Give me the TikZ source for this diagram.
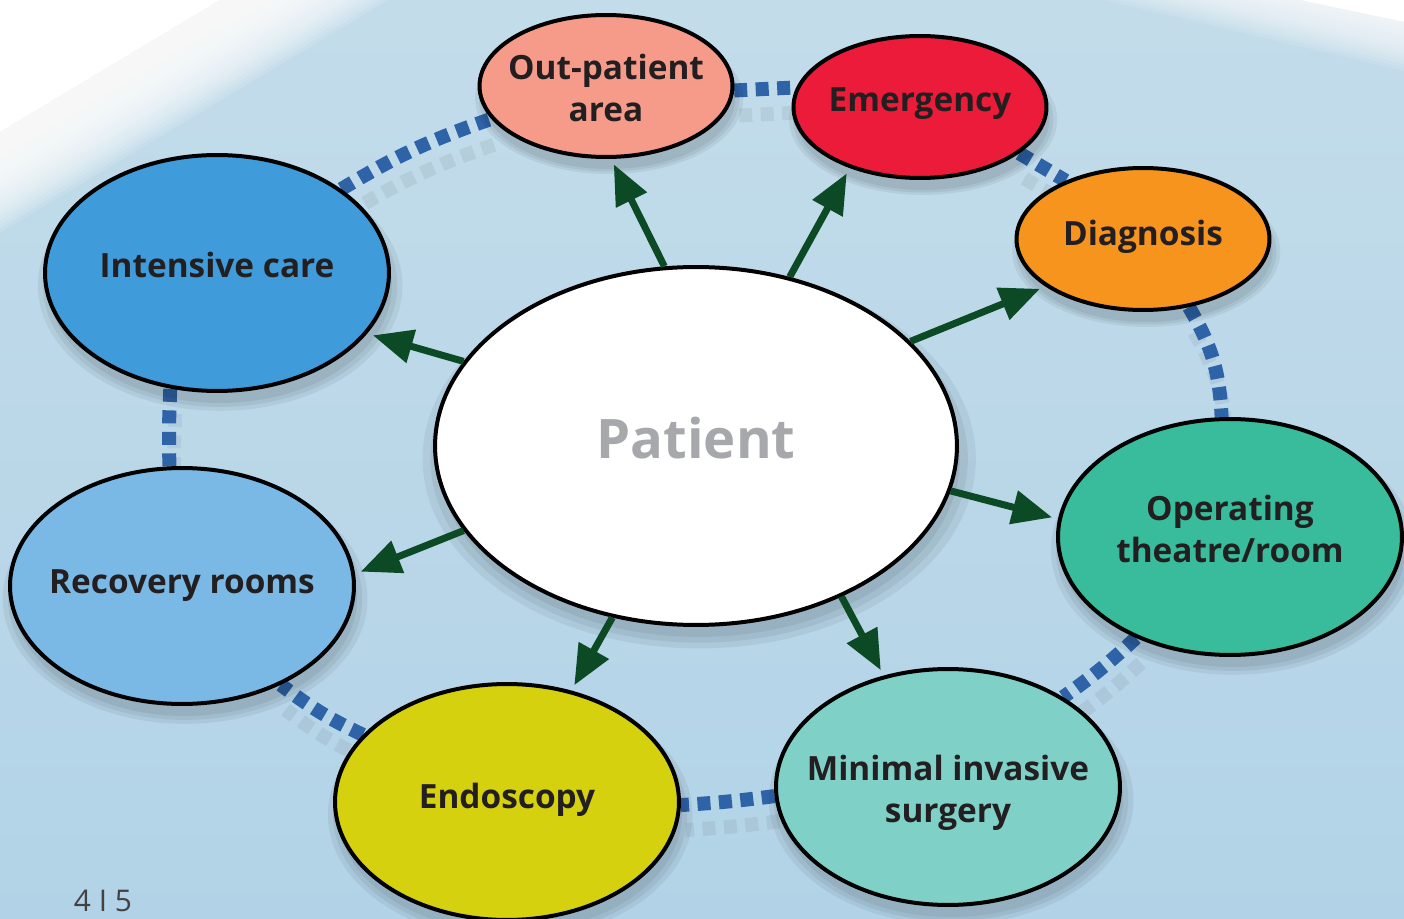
\documentclass[tikz,border=0pt]{standalone}
\usepackage{fontspec}
\setmainfont{Open Sans}
\usetikzlibrary{shapes.geometric,arrows.meta,shadows}

\definecolor{bgtop}{HTML}{C3DCEA}
\definecolor{bgbottom}{HTML}{B2D3E7}
\definecolor{outpcol}{HTML}{F69B8A}
\definecolor{emergcol}{HTML}{ED1B3A}
\definecolor{diagcol}{HTML}{F7941E}
\definecolor{opcol}{HTML}{39BC9B}
\definecolor{miscol}{HTML}{7FD0C7}
\definecolor{endocol}{HTML}{D5D10F}
\definecolor{recovcol}{HTML}{7AB9E6}
\definecolor{icucol}{HTML}{3F9BDA}
\definecolor{arrowgreen}{HTML}{0C4A26}
\definecolor{ringblue}{HTML}{2E63A8}
\definecolor{textdark}{HTML}{231F20}
\definecolor{patientgray}{HTML}{A6A8AB}

\pgfdeclarelayer{bg}
\pgfdeclarelayer{back}
\pgfsetlayers{bg,back,main}

\tikzset{
  softshadow/.style={
    general shadow={fill=black, opacity=0.06, shadow scale=1.06, shadow xshift=0.06cm, shadow yshift=-0.24cm},
    general shadow={fill=black, opacity=0.06, shadow scale=1.03, shadow xshift=0.06cm, shadow yshift=-0.24cm},
    general shadow={fill=black, opacity=0.06, shadow xshift=0.06cm, shadow yshift=-0.24cm}},
  ward/.style={ellipse, draw=black, line width=0.08cm, inner sep=0pt, fill=#1, softshadow},
  smallward/.style={ward=#1, minimum width=5.06cm, minimum height=2.84cm},
  bigward/.style={ward=#1, minimum width=6.88cm, minimum height=4.72cm},
  wardtext/.style={text=textdark, align=center, font=\fontsize{19}{24}\selectfont\bfseries},
  toward/.style={draw=arrowgreen, line width=0.14cm, shorten >=0.12cm,
    -{Triangle[length=0.8cm, width=0.66cm]}},
  ringdash/.style={draw=ringblue, line width=0.28cm, dash pattern=on 0.26cm off 0.17cm},
}

\begin{document}
\begin{tikzpicture}[x=0.02cm, y=-0.02cm]
\useasboundingbox (0,0) rectangle (1404,919);

% background with light corners
\begin{pgfonlayer}{bg}
  \shade[top color=bgtop, bottom color=bgbottom] (0,0) rectangle (1404,919);
  \fill[white] (0,0) -- (220,0) -- (0,132) -- cycle;
  \foreach \k in {0,...,24}
    \fill[white, opacity=0.12] (0,0) -- ({220+7*\k},0) -- (0,{132+4.2*\k}) -- cycle;
  \fill[white] (1404,0) -- (1300,0) -- (1404,22) -- cycle;
  \foreach \k in {0,...,14}
    \fill[white, opacity=0.1] (1404,0) -- ({1300-14*\k},0) -- (1404,{22+3.5*\k}) -- cycle;
\end{pgfonlayer}

% wards
\node[ward=white, minimum width=10.44cm, minimum height=7.16cm,
  label={[text=patientgray, yshift=0.16cm, font=\fontsize{31}{36}\selectfont\bfseries]center:Patient}]
  (patient) at (696,446) {};
\node[smallward=outpcol, label={[wardtext, yshift=-0.04cm]center:Out-patient\\area}] (outp) at (606,86) {};
\node[smallward=emergcol, label={[wardtext, yshift=0.06cm]center:Emergency}] (emerg) at (920,107) {};
\node[smallward=diagcol, label={[wardtext, yshift=0.04cm]center:Diagnosis}] (diag) at (1143,239) {};
\node[bigward=opcol, label={[wardtext, yshift=0.16cm]center:Operating\\theatre/room}] (optheatre) at (1230,537) {};
\node[bigward=miscol, label={[wardtext, yshift=-0.12cm]center:Minimal invasive\\surgery}] (mis) at (948,787) {};
\node[bigward=endocol, label={[wardtext, yshift=0.04cm]center:Endoscopy}] (endo) at (507,802) {};
\node[bigward=recovcol, label={[wardtext]center:Recovery rooms}] (recov) at (182,586) {};
\node[bigward=icucol, label={[wardtext, yshift=0.16cm]center:Intensive care}] (icu) at (217,273) {};

% dashed ring between the wards
\begin{pgfonlayer}{back}
  \foreach \from/\to/\bend in {icu.34/outp.196/6, outp.-2/emerg.171/0, emerg.-25/diag.143/0,
      diag.-56/optheatre.94/14, optheatre.227/mis.38/4, mis.183/endo.-1/2,
      endo.155/recov.-45/6, recov.96/icu.248/2} {
    \draw[ringdash, draw=black, opacity=0.06, transform canvas={shift={(0.1cm,-0.5cm)}}]
      (\from) to[bend left=\bend] (\to);
    \draw[ringdash] (\from) to[bend left=\bend] (\to);
  }
\end{pgfonlayer}

% arrows from the patient
\foreach \src/\dst in {patient.100/outp.274, patient.61/emerg.221, patient.26/diag.206,
    patient.-10/optheatre.174, patient.-46/mis.120, patient.244/endo.60,
    patient.200/recov.4, patient.160/icu.-22}
  \draw[toward] (\src) -- (\dst);

\node[text=textdark!85, font=\fontsize{17}{20}\selectfont] (pageno) at (103,901) {4 I 5};

\end{tikzpicture}
\end{document}
